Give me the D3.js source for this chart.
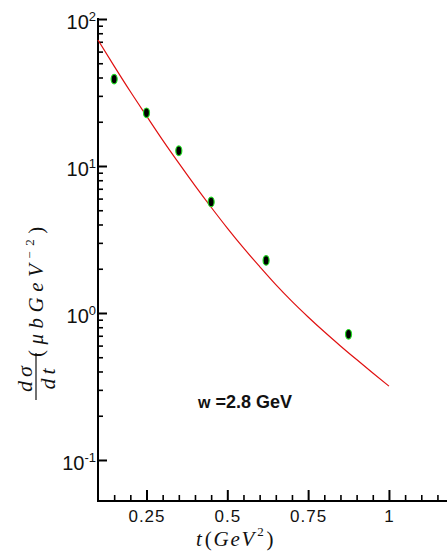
<!DOCTYPE html>
<html>
<head>
<meta charset="utf-8">
<script src="https://cdn.jsdelivr.net/npm/d3@7"></script>
<style>
  body { margin: 0; background: #fff; }
  .tick text { font-family: "Liberation Sans", Arial, sans-serif; }
</style>
</head>
<body>
<script>
// data points (t, dsigma/dt)
const pointT = [0.15, 0.25, 0.35, 0.45, 0.62, 0.875];
const pointY = [39, 23, 12.7, 5.7, 2.28, 0.716];

// model curve
const curveT = [0.1, 0.15, 0.2, 0.25, 0.3, 0.35, 0.4, 0.45, 0.5, 0.55, 0.6, 0.65, 0.7, 0.75, 0.8, 0.85, 0.9, 0.95, 1.0];
const curveY = [71.9, 47.8, 32.1, 21.9, 15.0, 10.45, 7.35, 5.24, 3.78, 2.77, 2.07, 1.56, 1.20, 0.94, 0.745, 0.597, 0.482, 0.391, 0.318];

const xMajor = [0.25, 0.5, 0.75, 1];
const xMajorLabels = ["0.25", "0.5", "0.75", "1"];
const yMajor = [0.1, 1, 10, 100];
const yExponents = ["-1", "0", "1", "2"];

const width = 447, height = 551;

const svg = d3.select("body")
    .append("svg")
    .attr("width", width)
    .attr("height", height);

const x = d3.scaleLinear().domain([0.1, 1.2]).range([98, 453.6]);
const y = d3.scaleLog().domain([0.0526, 100]).range([501, 19]);

// x axis: minor then major ticks, pointing up
const xMinor = d3.range(0.15, 1.2, 0.05).filter(v => !xMajor.some(m => Math.abs(m - v) < 1e-6));
svg.append("g")
    .attr("transform", "translate(0,501)")
    .call(d3.axisBottom(x).tickValues(xMinor).tickSize(-6).tickSizeOuter(0).tickFormat(""))
    .call(g => g.select(".domain").remove())
    .selectAll("line").attr("stroke", "#000").attr("stroke-width", 1.6);

svg.append("g")
    .attr("transform", "translate(0,501)")
    .call(d3.axisBottom(x).tickValues(xMajor).tickSize(-11).tickSizeOuter(0)
        .tickPadding(9).tickFormat((d, i) => xMajorLabels[i]))
    .call(g => g.select(".domain").remove())
    .call(g => g.selectAll("line").attr("stroke", "#000").attr("stroke-width", 2))
    .call(g => g.selectAll("text").attr("font-size", 17).attr("fill", "#111").attr("letter-spacing", 1));

// y axis: log minor ticks and major ticks, pointing right
const yMinor = [];
[0.1, 1, 10].forEach(dec => { for (let k = 2; k <= 9; k++) yMinor.push(dec * k); });
svg.append("g")
    .attr("transform", "translate(98,0)")
    .call(d3.axisLeft(y).tickValues(yMinor).tickSize(-5).tickSizeOuter(0).tickFormat(""))
    .call(g => g.select(".domain").remove())
    .selectAll("line").attr("stroke", "#000").attr("stroke-width", 1.6);

svg.append("g")
    .attr("transform", "translate(98,0)")
    .call(d3.axisLeft(y).tickValues(yMajor).tickSize(-9).tickSizeOuter(0).tickFormat(""))
    .call(g => g.select(".domain").remove())
    .selectAll("line").attr("stroke", "#000").attr("stroke-width", 2);

// axis lines
svg.append("line").attr("x1", 98).attr("x2", width).attr("y1", 501).attr("y2", 501)
    .attr("stroke", "#000").attr("stroke-width", 2);
svg.append("line").attr("x1", 98).attr("x2", 98).attr("y1", 18).attr("y2", 502)
    .attr("stroke", "#000").attr("stroke-width", 2);

// y tick labels 10^n
const ylab = svg.selectAll(".ylab")
    .data(yMajor)
    .enter().append("text")
    .attr("class", "ylab")
    .attr("font-family", "Liberation Sans, Arial, sans-serif")
    .attr("fill", "#111")
    .attr("text-anchor", "end")
    .attr("x", 96)
    .attr("y", d => y(d) + 10);
ylab.append("tspan").attr("font-size", 20).text("10");
ylab.append("tspan").attr("font-size", 13).attr("dy", -8).text((d, i) => yExponents[i]);

// curve
const line = d3.line()
    .x(d => x(d[0]))
    .y(d => y(d[1]))
    .curve(d3.curveMonotoneX);

svg.append("path")
    .datum(curveT.map((t, i) => [t, curveY[i]]))
    .attr("d", line)
    .attr("fill", "none")
    .attr("stroke", "#e01010")
    .attr("stroke-width", 1.2);

// data points
svg.selectAll(".pt")
    .data(pointT.map((t, i) => [t, pointY[i]]))
    .enter().append("ellipse")
    .attr("class", "pt")
    .attr("cx", d => x(d[0]))
    .attr("cy", d => y(d[1]))
    .attr("rx", 3)
    .attr("ry", 4.8)
    .attr("fill", "#000")
    .attr("stroke", "#22dd22")
    .attr("stroke-width", 1.2);

// annotation
svg.append("text")
    .attr("x", 198)
    .attr("y", 408)
    .attr("font-family", "Liberation Sans, Arial, sans-serif")
    .attr("font-weight", "bold")
    .attr("font-size", 18)
    .attr("fill", "#111")
    .html('<tspan font-size="16">w</tspan> =2.8 GeV');

// x axis title
const xt = svg.append("text")
    .attr("x", 196)
    .attr("y", 546)
    .attr("font-family", "Liberation Serif, Times New Roman, serif")
    .attr("font-size", 21)
    .attr("letter-spacing", 1.8)
    .attr("fill", "#111");
xt.append("tspan").attr("font-style", "italic").text("t");
xt.append("tspan").attr("dx", 1).text("(");
xt.append("tspan").attr("font-style", "italic").text("GeV");
xt.append("tspan").attr("font-size", 13).attr("dy", -10).attr("dx", 1).text("2");
xt.append("tspan").attr("dy", 10).attr("dx", 1).text(")");

// y axis title (rotated)
const yt = svg.append("g")
    .attr("transform", "rotate(-90)")
    .attr("font-family", "Liberation Serif, Times New Roman, serif")
    .attr("fill", "#111");

yt.append("text")
    .attr("x", -377).attr("y", 32)
    .attr("text-anchor", "middle")
    .attr("font-size", 22).attr("font-style", "italic")
    .attr("letter-spacing", 4)
    .text("dσ");
yt.append("line")
    .attr("x1", -400).attr("x2", -353).attr("y1", 36).attr("y2", 36)
    .attr("stroke", "#111").attr("stroke-width", 1.2);
yt.append("text")
    .attr("x", -377).attr("y", 55)
    .attr("text-anchor", "middle")
    .attr("font-size", 22).attr("font-style", "italic")
    .attr("letter-spacing", 4)
    .text("dt");

const yp = yt.append("text")
    .attr("x", -357).attr("y", 43)
    .attr("font-size", 21)
    .attr("letter-spacing", 5.5);
yp.append("tspan").text("(");
yp.append("tspan").attr("font-style", "italic").text("μbGeV");
yp.append("tspan").attr("font-size", 13).attr("dy", -9).text("−2");
yp.append("tspan").attr("dy", 9).text(")");
</script>
</body>
</html>
